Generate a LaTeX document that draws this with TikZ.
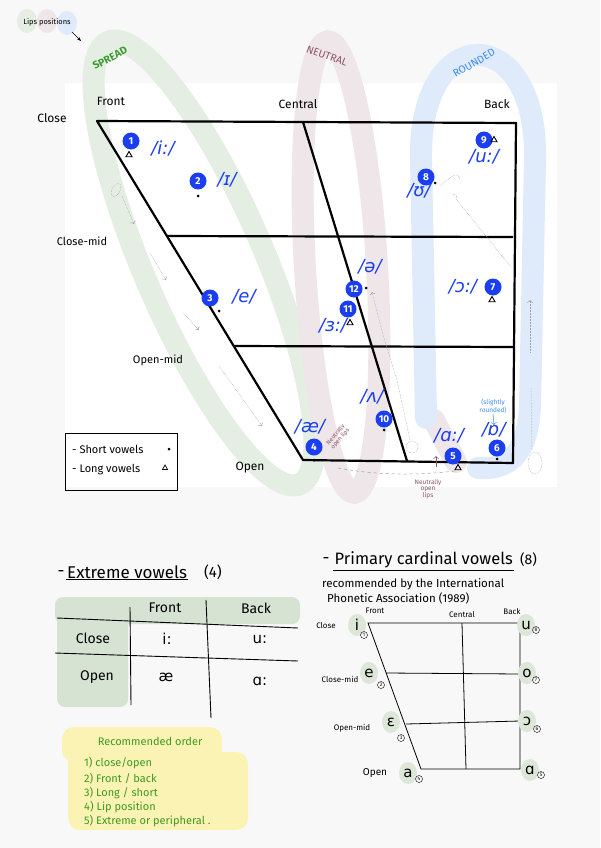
\documentclass[tikz,border=0pt]{standalone}
\usepackage{fontspec}
\setmainfont{Fira Sans}
\newfontfamily\ipafont{DejaVu Sans}
\usetikzlibrary{positioning,arrows.meta,shapes.geometric}

\definecolor{pagegray}{HTML}{F8F8F9}
\definecolor{vowelblue}{HTML}{1B3FF0}
\definecolor{spreadband}{HTML}{E4EEE2}
\definecolor{neutralband}{HTML}{EFE6E9}
\definecolor{roundband}{HTML}{DFEAFA}
\definecolor{spreadtext}{HTML}{3B9A2E}
\definecolor{neutraltext}{HTML}{8F5468}
\definecolor{roundtext}{HTML}{3C8BF0}
\definecolor{cardgreen}{HTML}{DCE7D7}
\definecolor{tablegreen}{HTML}{D6E3D3}
\definecolor{noteyellow}{HTML}{FAF3B3}
\definecolor{ordergreen}{HTML}{3F9A22}

\newcommand*{\fs}[1]{\fontsize{#1}{#1}\selectfont}

\begin{document}
\begin{tikzpicture}
[
	x=1pt,
	y=-1pt,
	band/.style={line width=22pt, line cap=round},
	chartline/.style={line width=2.2pt, line join=round},
	vnum/.style={circle,fill=vowelblue,text=white,inner sep=0pt,minimum size=17pt,font=\fs{10}\bfseries},
	ipa/.style={text=vowelblue,font=\fs{18}\ipafont\itshape,inner sep=0pt},
	shortpt/.style={circle,fill,inner sep=0pt,minimum size=3pt},
	longpt/.style={regular polygon,regular polygon sides=3,draw,line width=0.9pt,inner sep=0pt,minimum size=7pt},
	axislabel/.style={font=\fs{12},inner sep=0pt},
	hint/.style={gray!75,densely dotted,line width=0.5pt},
	lipnote/.style={text=neutraltext,font=\fs{6},align=center,inner sep=0pt},
	cardlabel/.style={font=\fs{8},inner sep=0pt},
	cardvowel/.style={ellipse,fill=cardgreen,inner sep=0pt,minimum width=18pt,minimum height=22pt,font=\fs{15}\ipafont},
	cardnum/.style={circle,draw,line width=0.4pt,inner sep=0pt,minimum size=7pt,font=\fs{5}},
	tabletext/.style={font=\fs{14},inner sep=0pt},
	order/.style={text=ordergreen,font=\fs{11},anchor=west,inner sep=0pt}
]

	\useasboundingbox (0,0) rectangle (600,848);

	% page and panel
	\fill[pagegray] (0,0) rectangle (600,848);
	\fill[white] (65,83) rectangle (557,487);

	% lip position bands
	\draw[band,spreadband] (204,263) ellipse [x radius=241, y radius=60, rotate=-66.6];
	\draw[band,neutralband] (341,267) ellipse [x radius=226, y radius=36, rotate=-86.6];
	\draw[band,neutralband] (434,420) -- (456,462);
	\draw[band,roundband] (426,418) -- (421,160) .. controls (418,20) and (538,20) .. (535,160)
		-- (530,405) .. controls (528,458) and (505,470) .. (478,468);

	\node[rotate=28,text=spreadtext,font=\fs{10.5}\bfseries] (spread) at (110,58) {SPREAD};
	\node[rotate=-20,text=neutraltext,font=\fs{10.5}] (neutral) at (327,56) {NEUTRAL};
	\node[rotate=30,text=roundtext,font=\fs{10.5}] (rounded) at (474,63) {ROUNDED};

	% lips positions key
	\fill[spreadband] (27,21) ellipse [x radius=10, y radius=12];
	\fill[neutralband] (47,21) ellipse [x radius=10, y radius=12];
	\fill[roundband] (67,23) ellipse [x radius=10, y radius=12];
	\node[font=\fs{7.5},inner sep=0pt] (lips) at (47,22) {Lips positions};
	\coordinate (lipsend) at (81,41);
	\draw[-{Stealth[length=4pt]}] (72,32) -- (lipsend);

	% vowel chart
	\draw[chartline] (97,121) -- (516,123) -- (513,463) -- (303,460) -- cycle;
	\draw[chartline] (167,236) -- (513,237);
	\draw[chartline] (234,346) -- (513,347);
	\draw[chartline] (303,122) -- (407,461);

	\node[axislabel] (close) at (52,118) {Close};
	\node[axislabel] (front) at (111,101) {Front};
	\node[axislabel] (central) at (298,104) {Central};
	\node[axislabel] (back) at (497,104) {Back};
	\node[axislabel,font=\fs{11}] (closemid) at (82,241) {Close-mid};
	\node[axislabel,font=\fs{11}] (openmid) at (158,360) {Open-mid};
	\node[axislabel] (open) at (250,468) {Open};

	% path hints
	\draw[hint] (116,190) ellipse [x radius=4, y radius=7, rotate=-30];
	\draw[hint,->] (122,196) -- (134,224);
	\draw[hint,->] (150,253) -- (166,280);
	\draw[hint,->] (183,313) -- (199,330);
	\draw[hint,->] (219,366) -- (262,426);
	\draw[hint,dashed] (338,468) .. controls (380,476) and (420,475) .. (455,471);
	\draw[hint,->] (410,440) -- (397,380) -- (383,335) -- (372,292);
	\draw[hint] (412,447) circle (6);
	\draw[hint] (440,186) .. controls (452,176) and (458,170) .. (460,180);
	\draw[hint] (452,196) .. controls (455,192) and (458,196) .. (456,199) -- (511,267);
	\draw[hint,->] (530,352) -- (530,300);
	\draw[hint] (532,450) -- (531,388);
	\draw[hint] (535,463) ellipse [x radius=7, y radius=11];

	% vowels
	\node[vnum] (v1) at (131,141) {1};
	\node[ipa] (p1) at (163,148) {/i:/};
	\node[longpt] (m1) at (129,155) {};

	\node[vnum] (v2) at (198,181) {2};
	\node[ipa] (p2) at (227,180) {/ɪ/};
	\node[shortpt] (m2) at (198,196) {};

	\node[vnum] (v3) at (210,298) {3};
	\node[ipa] (p3) at (244,297) {/e/};
	\node[shortpt] (m3) at (219,311) {};

	\node[vnum] (v4) at (314,447) {4};
	\node[ipa] (p4) at (310,427) {/æ/};
	\node[shortpt] (m4) at (314,460) {};

	\node[vnum] (v5) at (453,456) {5};
	\node[ipa] (p5) at (449,436) {/ɑ:/};
	\node[longpt] (m5) at (458,468) {};

	\node[vnum] (v6) at (497,448) {6};
	\node[ipa] (p6) at (494,430) {/ɒ/};
	\node[shortpt] (m6) at (497,459) {};

	\node[vnum] (v7) at (493,287) {7};
	\node[ipa] (p7) at (463,287) {/ɔ:/};
	\node[longpt] (m7) at (492,300) {};

	\node[vnum] (v8) at (426,177) {8};
	\node[ipa] (p8) at (419,191) {/ʊ/};
	\node[shortpt] (m8) at (435,183) {};

	\node[vnum] (v9) at (484,140) {9};
	\node[ipa] (p9) at (484,157) {/u:/};
	\node[longpt] (m9) at (494,140) {};

	\node[vnum] (v10) at (384,419) {10};
	\node[ipa] (p10) at (372,397) {/ʌ/};
	\node[shortpt] (m10) at (384,430) {};

	\node[vnum] (v12) at (354,289) {12};
	\node[ipa] (p12) at (370,267) {/ə/};
	\node[shortpt] (m12) at (366,288) {};

	\node[vnum] (v11) at (348,309) {11};
	\node[ipa] (p11) at (333,326) {/ɜ:/};
	\node[longpt] (m11) at (350,323) {};

	% lip notes
	\node[lipnote,rotate=50] (lips4) at (338,437) {Neutrally\\open lips};
	\node[lipnote,font=\fs{6.5}] (lips5) at (428,489) {Neutrally\\open\\lips};
	\coordinate (lips5top) at (436,456);
	\draw[neutraltext,line width=0.5pt,->] (436,467) -- (lips5top);
	\node[text=roundtext,font=\fs{6.5},align=center,inner sep=0pt] (slight) at (493,406) {(slightly\\rounded)};
	\coordinate (slightend) at (494,425);
	\draw[roundtext,line width=0.5pt,->] (slight.south) -- (slightend);

	% legend
	\draw[line width=1pt] (65,433) rectangle (177,490);
	\node[font=\fs{11},anchor=west,inner sep=0pt] (shortkey) at (72,449) {- Short vowels};
	\node[shortpt] (shortmark) at (169,449) {};
	\node[font=\fs{11},anchor=west,inner sep=0pt] (longkey) at (72,470) {- Long vowels};
	\node[longpt,line width=0.7pt,minimum size=6pt] (longmark) at (165,468) {};

	% extreme vowels
	\node[font=\fs{17},inner sep=0pt] (exdash) at (61,574) {-};
	\node[font=\fs{17},anchor=west,inner sep=1pt] (extitle) at (66,572) {Extreme vowels};
	\node[font=\fs{15},anchor=west,inner sep=0pt] (excount) at (204,572) {(4)};
	\draw[line width=0.7pt] (extitle.south west) -- (extitle.south east);

	\fill[tablegreen,rounded corners=8pt] (55,597) rectangle (300,624);
	\fill[tablegreen,rounded corners=8pt] (57,610) rectangle (128,707);
	\draw[line width=0.9pt] (130,607) -- (131,705);
	\draw[line width=0.9pt] (206,600) -- (211,718);
	\draw[line width=0.9pt] (57,618) -- (298,628);
	\draw[line width=0.9pt] (55,653) -- (298,661);
	\node[tabletext] (tfront) at (165,608) {Front};
	\node[tabletext] (tback) at (256,608) {Back};
	\node[tabletext] (tclose) at (93,638) {Close};
	\node[tabletext] (topen) at (97,677) {Open};
	\node[tabletext,font=\fs{15}\ipafont] (ti) at (167,639) {i:};
	\node[tabletext,font=\fs{15}\ipafont] (tu) at (260,639) {u:};
	\node[tabletext,font=\fs{15}\ipafont] (tae) at (166,677) {æ};
	\node[tabletext,font=\fs{15}\ipafont] (ta) at (260,681) {ɑ:};

	% recommended order
	\fill[noteyellow,rounded corners=12pt] (62,727) rectangle (222,762);
	\fill[noteyellow,rounded corners=12pt] (68,752) rectangle (248,830);
	\node[text=ordergreen,font=\fs{11},inner sep=0pt] (ordertitle) at (150,741) {Recommended order};
	\node[order] (o1) at (84,763) {1) close/open};
	\node[order] (o2) at (84,779) {2) Front / back};
	\node[order] (o3) at (84,793) {3) Long / short};
	\node[order] (o4) at (84,807) {4) Lip position};
	\node[order] (o5) at (84,821) {5) Extreme or peripheral .};

	% primary cardinal vowels
	\node[font=\fs{17},inner sep=0pt] (cardash) at (326,561) {-};
	\node[font=\fs{16.5},anchor=west,inner sep=1.5pt] (cardtitle) at (333,560) {Primary cardinal vowels};
	\node[font=\fs{14},anchor=west,inner sep=0pt] (cardcount) at (520,560) {(8)};
	\draw[line width=0.7pt] (cardtitle.south west) -- (cardtitle.south east);
	\node[font=\fs{11.5},anchor=west,inner sep=0pt] (ipa1) at (322,584) {recommended by the International};
	\node[font=\fs{11.5},anchor=west,inner sep=0pt] (ipa2) at (327,598) {Phonetic Association (1989)};

	\draw[line width=0.8pt] (368,623) -- (520,623) -- (520,769) -- (421,769) -- cycle;
	\draw[line width=0.8pt] (386,673) -- (520,674);
	\draw[line width=0.8pt] (406,724) -- (520,721);
	\draw[line width=0.8pt] (462,623) -- (466,769);

	\node[cardlabel] (cfront) at (375,611) {Front};
	\node[cardlabel] (ccentral) at (462,615) {Central};
	\node[cardlabel] (cback) at (512,612) {Back};
	\node[cardlabel] (cclose) at (326,626) {Close};
	\node[cardlabel] (cclosemid) at (340,679) {Close-mid};
	\node[cardlabel] (copenmid) at (352,728) {Open-mid};
	\node[cardlabel,font=\fs{10}] (copen) at (375,773) {Open};

	\node[cardvowel] (ci) at (357,625) {i};
	\node[cardnum] (n1) at (364,635) {1};
	\node[cardvowel] (ce) at (369,673) {e};
	\node[cardnum] (n2) at (381,685) {2};
	\node[cardvowel] (ceps) at (391,722) {ɛ};
	\node[cardnum] (n3) at (401,738) {3};
	\node[cardvowel] (ca) at (408,773) {a};
	\node[cardnum] (n4) at (419,779) {4};
	\node[cardvowel] (cal) at (530,770) {ɑ};
	\node[cardnum] (n5) at (541,775) {5};
	\node[cardvowel] (cor) at (527,721) {ɔ};
	\node[cardnum] (n6) at (537,729) {6};
	\node[cardvowel] (co) at (527,673) {o};
	\node[cardnum] (n7) at (536,680) {7};
	\node[cardvowel] (cu) at (526,625) {u};
	\node[cardnum] (n8) at (536,630) {8};

\end{tikzpicture}
\end{document}
